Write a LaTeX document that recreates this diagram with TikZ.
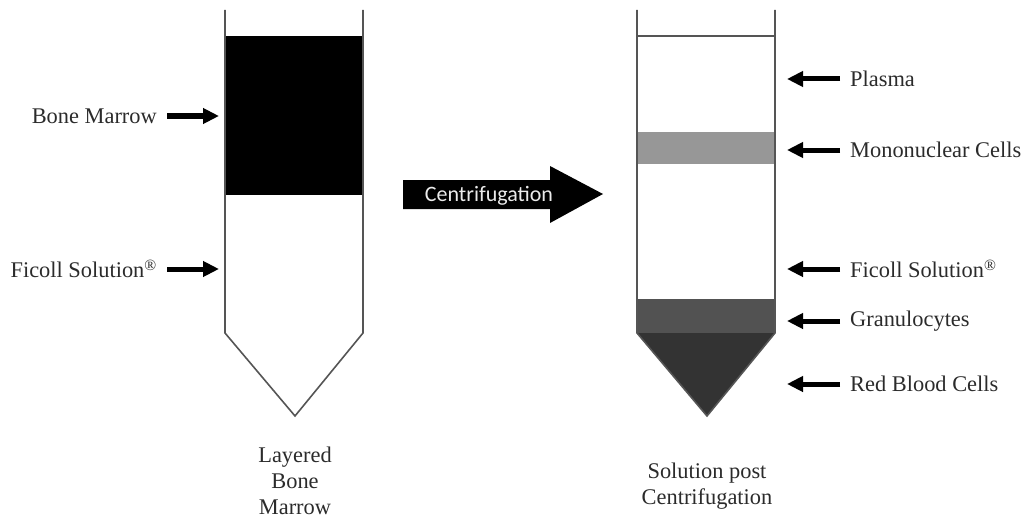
\documentclass[tikz,border=0pt]{standalone}
\usepackage{fontspec}
\setmainfont{Liberation Serif}
\newfontfamily\calib{Carlito}
\usetikzlibrary{arrows.meta}
\definecolor{txt}{HTML}{2B2B2B}
\definecolor{wall}{HTML}{555555}
\definecolor{mono}{HTML}{979797}
\definecolor{gran}{HTML}{525252}
\definecolor{rbc}{HTML}{333333}
\begin{document}
\begin{tikzpicture}[x=1pt,y=-1pt,
  lbl/.style={text=txt,font=\fontsize{22.4}{26}\selectfont,inner sep=0pt},
  lblL/.style={lbl,anchor=east},
  lblR/.style={lbl,anchor=west},
  tubecaption/.style={lbl,align=center,anchor=north},
  ptr/.style={line width=5pt,-{Triangle[length=16pt,width=15pt]},black},
  tubewall/.style={draw=wall,line width=1.6pt}]
\useasboundingbox (0,0) rectangle (1029,519);
% ---------- left tube ----------
\fill[black] (225,36) rectangle (363,195);
\draw[tubewall] (225,10) -- (225,333) -- (295,416) -- (363,333) -- (363,10);
\node[lblL] (bm) at (157,116) {Bone Marrow};
\coordinate (bmT) at (219,116);
\draw[ptr] ([xshift=10pt]bm.east) -- (bmT);
\node[lblL] (fs1) at (157,269) {Ficoll Solution\textsuperscript{®}};
\coordinate (fs1T) at (219,269);
\draw[ptr] ([xshift=10pt]bm.east |- fs1.east) -- (fs1T);
\node[tubecaption] (c1) at (295,447) {Layered\\Bone\\Marrow};
% ---------- centrifugation arrow ----------
\fill[black] (403,180) -- (550,180) -- (550,166) -- (603,194) -- (550,223) -- (550,209) -- (403,209) -- cycle;
\node[text=white!92!black,font=\calib\fontsize{22}{24}\selectfont,inner sep=0pt] (cf) at (489,196) {Centrifugation};
% ---------- right tube ----------
\fill[mono] (637,132) rectangle (775,164);
\fill[gran] (637,299) rectangle (775,333);
\fill[rbc] (637,333) -- (707,416) -- (775,333) -- cycle;
\draw[tubewall] (637,10) -- (637,333) -- (707,416) -- (775,333) -- (775,10);
\draw[tubewall] (637,36) -- (775,36);
\coordinate (rx) at (787,0);
\node[lblR] (pl) at (850,79) {Plasma};
\node[lblR] (mn) at (850,150) {Mononuclear Cells};
\node[lblR] (fs2) at (850,269) {Ficoll Solution\textsuperscript{®}};
\node[lblR] (gr) at (850,321) {Granulocytes};
\node[lblR] (rb) at (850,384) {Red Blood Cells};
\foreach \n in {pl,mn,fs2,gr,rb}{
  \coordinate (\n T) at (rx |- \n.west);
  \draw[ptr] ([xshift=-10pt]\n.west) -- (\n T);
}
\node[tubecaption] (c2) at (707,463) {Solution post\\Centrifugation};
\end{tikzpicture}
\end{document}
